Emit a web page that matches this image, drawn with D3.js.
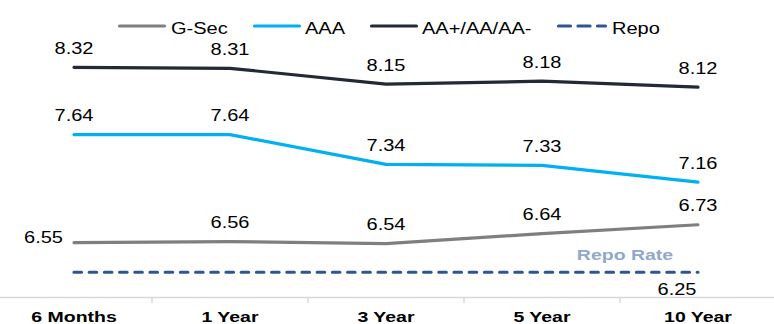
<!DOCTYPE html>
<html>
<head>
<meta charset="utf-8">
<script src="https://cdn.jsdelivr.net/npm/d3@7"></script>
<style>
  html, body { margin: 0; padding: 0; background: #fff; }
  svg { display: block; font-family: "Liberation Sans", Arial, sans-serif; }
</style>
</head>
<body>
<svg id="chart" width="774" height="324"></svg>
<script>
// Tenors and yields (%)
const tenors = ["6 Months", "1 Year", "3 Year", "5 Year", "10 Year"];
const gsec = [6.55, 6.56, 6.54, 6.64, 6.73];
const aaa = [7.64, 7.64, 7.34, 7.33, 7.16];
const aaRated = [8.32, 8.31, 8.15, 8.18, 8.12];
const repo = [6.25, 6.25, 6.25, 6.25, 6.25];
const seriesNames = ["G-Sec", "AAA", "AA+/AA/AA-", "Repo"];

const svg = d3.select("#chart");

const x = d3.scaleBand().domain(tenors).range([-4, 776]);
const y = d3.scaleLinear().domain([6, 9]).range([297, 0]);
const cx = d => x(d) + x.bandwidth() / 2;

// Text in this chart is set in a wide Arial-like face
const WIDE = 1.25;
function wideText(parent, px, py, str, opts = {}) {
  return parent.append("text")
    .attr("transform", `translate(${px},${py}) scale(${opts.sx || WIDE},1)`)
    .attr("text-anchor", opts.anchor || "middle")
    .attr("font-size", opts.size || 16)
    .attr("font-weight", opts.weight || "normal")
    .attr("fill", opts.fill || "#000")
    .text(str);
}

const series = [
  { name: seriesNames[0], values: gsec, color: "#7F7F7F", dash: null },
  { name: seriesNames[1], values: aaa, color: "#00B0F0", dash: null },
  { name: seriesNames[2], values: aaRated, color: "#222A35", dash: null },
  { name: seriesNames[3], values: repo, color: "#2F5597", dash: "7.5,7.7" }
];

// Category axis
const xAxis = d3.axisBottom(x).tickSize(0).tickFormat("");
const gx = svg.append("g").attr("transform", `translate(0,${y(6)})`).call(xAxis);
gx.select(".domain").attr("stroke", "#D9D9D9").attr("stroke-width", 1.5);
gx.selectAll(".sep")
  .data(tenors.slice(1))
  .join("line")
  .attr("x1", d => x(d)).attr("x2", d => x(d))
  .attr("y1", 0).attr("y2", 6)
  .attr("stroke", "#D9D9D9").attr("stroke-width", 1.5);
const axisLabels = svg.append("g");
tenors.forEach(t => wideText(axisLabels, cx(t), 322, t, { size: 15, weight: "bold", sx: 1.3 }));

// Lines
const line = d3.line().x((v, i) => cx(tenors[i])).y(v => y(v));
svg.append("g").selectAll("path")
  .data(series)
  .join("path")
  .attr("d", s => line(s.values))
  .attr("fill", "none")
  .attr("stroke", s => s.color)
  .attr("stroke-width", 3.2)
  .attr("stroke-linecap", "round")
  .attr("stroke-linejoin", "round")
  .attr("stroke-dasharray", s => s.dash);

// Value labels
const lbl = svg.append("g");
aaRated.forEach((v, i) => wideText(lbl, cx(tenors[i]), y(v) - 13.5, v.toFixed(2)));
aaa.forEach((v, i) => wideText(lbl, cx(tenors[i]), y(v) - 13.5, v.toFixed(2)));
gsec.forEach((v, i) => {
  if (i === 0) wideText(lbl, cx(tenors[i]) - 11, y(v) + 0.5, v.toFixed(2), { anchor: "end" });
  else wideText(lbl, cx(tenors[i]), y(v) - 13.5, v.toFixed(2));
});
// Repo level shown once, under the last point
wideText(lbl, cx(tenors[4]) - 21, y(repo[4]) + 22.5, repo[4].toFixed(2));

// Repo annotation
wideText(svg, cx(tenors[4]) - 73, y(repo[4]) - 12, "Repo Rate",
  { size: 15, weight: "bold", fill: "#8EA9CB", sx: 1.3 });

// Legend
const legendX = [119.5, 254.5, 371.5, 558.5];
const legendTextX = [171, 305, 422, 612];
const lg = svg.append("g").selectAll("g")
  .data(series)
  .join("g")
  .attr("transform", (d, i) => `translate(${legendX[i]},26)`);
lg.append("line")
  .attr("x1", 0).attr("x2", d => d.dash ? 47 : 45).attr("y1", 0).attr("y2", 0)
  .attr("stroke", d => d.color)
  .attr("stroke-width", 3.2)
  .attr("stroke-linecap", "round")
  .attr("stroke-dasharray", d => d.dash ? "12,7.5" : null);
const legendText = svg.append("g");
series.forEach((s, i) => wideText(legendText, legendTextX[i], 33.5, s.name, { anchor: "start", size: 16 }));
</script>
</body>
</html>
